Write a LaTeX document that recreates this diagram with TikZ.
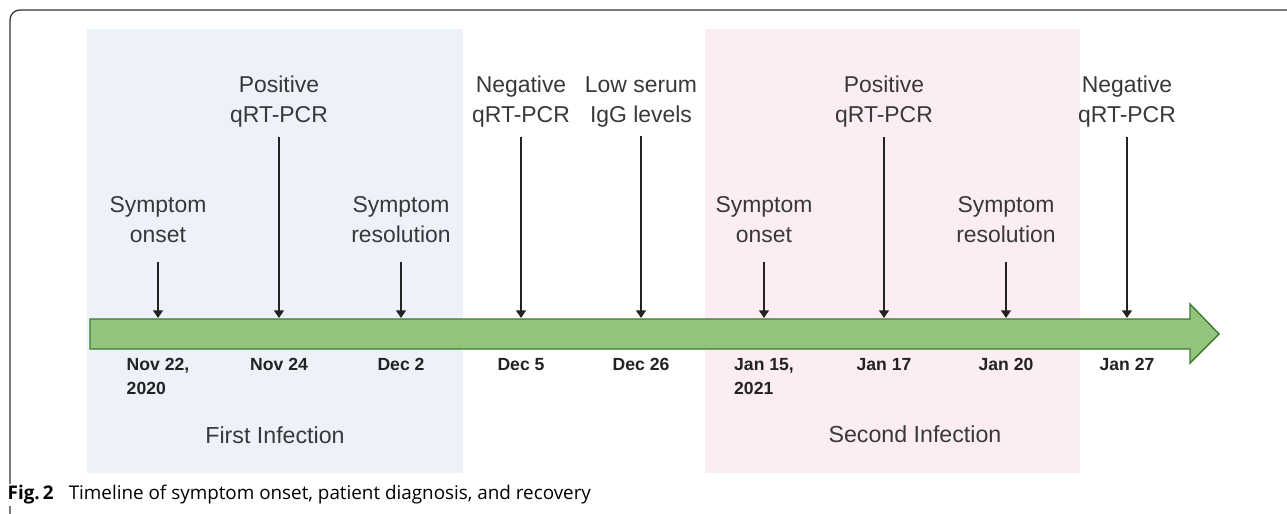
\documentclass[tikz,border=0pt]{standalone}
\usepackage{fontspec}
\setmainfont{Liberation Sans}
\newfontfamily\capfont{Open Sans}
\usepackage{xcolor}
\usetikzlibrary{arrows.meta, positioning}

\definecolor{firstbg}{HTML}{EDF2FA}
\definecolor{secondbg}{HTML}{FCEDF5}
\definecolor{tlfill}{HTML}{93C47D}
\definecolor{tldraw}{HTML}{3E7A2E}
\definecolor{evtext}{HTML}{383838}
\definecolor{datetext}{HTML}{222222}

\begin{document}
\begin{tikzpicture}[
  x=0.025cm,
  y=-0.025cm,
  event/.style={
    align=center,
    inner sep=0pt,
    anchor=north,
    text=evtext,
    font=\fontsize{16.3}{21.3}\selectfont
  },
  date/.style={
    align=left,
    inner sep=0pt,
    text=datetext,
    font=\fontsize{12.5}{17}\selectfont\bfseries
  },
  phase/.style={
    text=evtext,
    font=\fontsize{16.5}{20}\selectfont
  },
  evarrow/.style={
    -{Triangle[length=5.5pt, width=7pt]},
    line width=1.4pt,
    draw=datetext,
    shorten <=2.2mm
  },
  lowarrow/.style={
    -{Triangle[length=5.5pt, width=7pt]},
    line width=1.4pt,
    draw=datetext,
    shorten <=4.7mm
  }
]
\useasboundingbox (0,0) rectangle (1287,513);

% Infection periods
\fill[firstbg] (87,29) rectangle (463,473);
\fill[secondbg] (705,29) rectangle (1080,473);

% Outer frame
\draw[line width=0.9pt, draw=black!80, rounded corners=7pt] (1300,10) -- (10,10) -- (10,520);

% Timeline arrow
\draw[fill=tlfill, draw=tldraw, line width=1pt, line join=miter]
  (90,319) -- (1190,319) -- (1190,304) -- (1219,334) -- (1190,363) -- (1190,349) -- (90,349) -- cycle;

% Points on the timeline
\coordinate (t1) at (158,318);
\coordinate (t2) at (279,318);
\coordinate (t3) at (401,318);
\coordinate (t4) at (521,318);
\coordinate (t5) at (641,318);
\coordinate (t6) at (764,318);
\coordinate (t7) at (884,318);
\coordinate (t8) at (1006,318);
\coordinate (t9) at (1127,318);

% Events
\node[event] (ev1) at (158,196) {Symptom\\onset};
\node[event] (ev2) at (279,76) {Positive\\qRT-PCR};
\node[event] (ev3) at (401,196) {Symptom\\resolution};
\node[event] (ev4) at (521,76) {Negative\\qRT-PCR};
\node[event] (ev5) at (641,76) {Low serum\\IgG levels};
\node[event] (ev6) at (764,196) {Symptom\\onset};
\node[event] (ev7) at (884,76) {Positive\\qRT-PCR};
\node[event] (ev8) at (1006,196) {Symptom\\resolution};
\node[event] (ev9) at (1127,76) {Negative\\qRT-PCR};

\draw[lowarrow] (ev1.south) -- (t1);
\draw[evarrow] (ev2.south) -- (t2);
\draw[lowarrow] (ev3.south) -- (t3);
\draw[evarrow] (ev4.south) -- (t4);
\draw[evarrow] (ev5.south) -- (t5);
\draw[lowarrow] (ev6.south) -- (t6);
\draw[evarrow] (ev7.south) -- (t7);
\draw[lowarrow] (ev8.south) -- (t8);
\draw[evarrow] (ev9.south) -- (t9);

% Dates
\node[date, below=1cm of t1] (d1) {Nov 22,\\2020};
\node[date, below=1cm of t2] (d2) {Nov 24};
\node[date, below=1cm of t3] (d3) {Dec 2};
\node[date, below=1cm of t4] (d4) {Dec 5};
\node[date, below=1cm of t5] (d5) {Dec 26};
\node[date, below=1cm of t6] (d6) {Jan 15,\\2021};
\node[date, below=1cm of t7] (d7) {Jan 17};
\node[date, below=1cm of t8] (d8) {Jan 20};
\node[date, below=1cm of t9] (d9) {Jan 27};

% Period labels
\node[phase] (first) at (275,435) {First Infection};
\node[phase] (second) at (915,434) {Second Infection};

% Caption
\node[anchor=west, fill=white, inner sep=1pt, font=\capfont\fontsize{13.4}{16}\selectfont] (cap) at (6,495)
  {\textbf{Fig.\,2}\hspace{0.8em}Timeline of symptom onset, patient diagnosis, and recovery};

\end{tikzpicture}
\end{document}
